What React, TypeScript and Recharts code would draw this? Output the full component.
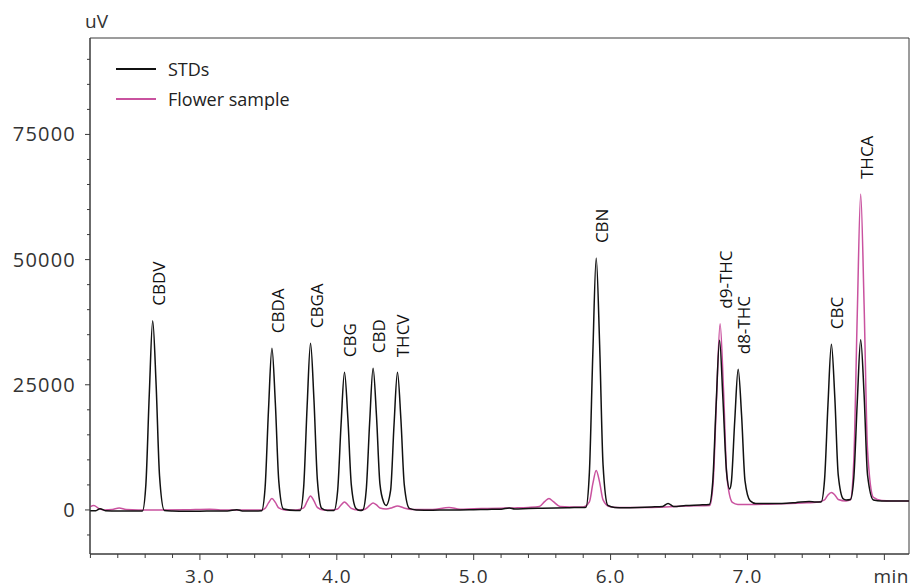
import {
  ComposedChart,
  Line,
  Scatter,
  XAxis,
  YAxis,
  Legend,
  ReferenceArea,
} from 'recharts';

// STDs trace, [min, uV]
const stdTrace: [number, number][] = [
  [2.197, -150], [2.24, -150], [2.27, 250], [2.31, -150], [2.4, -200], [2.5, -200],
  [2.58, -200], [2.605, 5000], [2.63, 23000], [2.655, 37800], [2.68, 25000], [2.705, 6800],
  [2.74, -100], [2.8, -200], [2.9, -250], [3.0, -250], [3.1, -200], [3.2, -200],
  [3.27, 50], [3.31, -200], [3.4, -200], [3.451, -150],
  [3.476, 4400], [3.501, 20000], [3.526, 32300], [3.551, 21300], [3.576, 5800], [3.61, 200],
  [3.7, -100], [3.733, -100],
  [3.758, 4600], [3.783, 20600], [3.808, 33300], [3.833, 22000], [3.858, 6000], [3.89, 300],
  [3.93, -100], [3.98, -100],
  [4.006, 3800], [4.031, 17000], [4.056, 27500], [4.081, 18200], [4.106, 5000], [4.14, 300],
  [4.17, -100], [4.19, 0],
  [4.215, 4000], [4.24, 17500], [4.265, 28300], [4.29, 18700], [4.315, 5200], [4.343, 1500],
  [4.36, 900],
  [4.393, 3900], [4.418, 17000], [4.443, 27500], [4.468, 18200], [4.493, 5000], [4.53, 300],
  [4.58, 0], [4.7, -50], [4.8, 0], [4.9, 0], [5.0, 50], [5.1, 100], [5.2, 150],
  [5.26, 400], [5.3, 200], [5.4, 300], [5.5, 350], [5.6, 400], [5.7, 450], [5.8, 500],
  [5.82, 550], [5.845, 7400], [5.87, 31000], [5.895, 50300], [5.92, 33000], [5.945, 9000],
  [5.98, 900], [6.03, 500], [6.1, 450], [6.2, 500], [6.3, 600], [6.38, 700],
  [6.42, 1300], [6.46, 700], [6.55, 900], [6.65, 1000], [6.721, 1100],
  [6.746, 5500], [6.771, 21000], [6.796, 33900], [6.821, 22000], [6.846, 8000], [6.87, 4200],
  [6.882, 5500], [6.907, 17800], [6.932, 28100], [6.957, 18900], [6.982, 5800], [7.02, 1800],
  [7.06, 1300], [7.15, 1300], [7.25, 1300], [7.35, 1450], [7.45, 1700], [7.5, 1600],
  [7.538, 1600], [7.563, 6000], [7.588, 21000], [7.613, 33100], [7.638, 22500], [7.663, 7000],
  [7.7, 2200], [7.72, 2000],
  [7.752, 2100], [7.777, 6500], [7.802, 21500], [7.827, 34000], [7.852, 23000], [7.877, 7000],
  [7.92, 2000], [7.98, 1800], [8.05, 1800], [8.18, 1800],
];

// Flower sample trace
const flowerTrace: [number, number][] = [
  [2.197, 600], [2.225, 900], [2.26, 300], [2.3, 0], [2.36, 100], [2.41, 400], [2.46, 100],
  [2.55, 0], [2.7, 0], [2.9, 50], [3.07, 150], [3.15, 0], [3.3, 0], [3.45, 0],
  [3.476, 300], [3.501, 1400], [3.526, 2300], [3.551, 1500], [3.576, 400], [3.62, 0], [3.7, 0],
  [3.758, 400], [3.783, 1700], [3.808, 2800], [3.833, 1800], [3.858, 500], [3.9, 0], [3.96, 0],
  [4.006, 200], [4.031, 1000], [4.056, 1600], [4.081, 1000], [4.106, 300], [4.15, 0], [4.2, 100],
  [4.215, 300], [4.24, 900], [4.265, 1400], [4.29, 1000], [4.315, 400], [4.36, 200],
  [4.4, 400], [4.443, 800], [4.49, 400], [4.55, 100], [4.7, 100], [4.82, 500], [4.9, 150],
  [5.0, 250], [5.1, 300], [5.2, 350], [5.3, 400], [5.4, 500], [5.48, 700],
  [5.52, 1700], [5.55, 2300], [5.58, 1700], [5.63, 700], [5.7, 600], [5.8, 600],
  [5.845, 1600], [5.87, 5200], [5.895, 7900], [5.92, 5500], [5.945, 2000], [5.99, 700],
  [6.05, 500], [6.2, 500], [6.4, 600], [6.55, 800], [6.725, 900],
  [6.75, 5800], [6.775, 23000], [6.8, 37200], [6.825, 24000], [6.85, 6500], [6.89, 1500],
  [6.93, 1100], [7.0, 1100], [7.2, 1200], [7.4, 1400], [7.52, 1600],
  [7.563, 2000], [7.588, 3000], [7.613, 3500], [7.638, 3000], [7.663, 2100], [7.72, 1800],
  [7.752, 2000], [7.777, 10000], [7.802, 39000], [7.827, 63100], [7.852, 41000], [7.877, 12000],
  [7.92, 2500], [7.98, 1900], [8.05, 1800], [8.18, 1800],
];

const peakNames = ['CBDV', 'CBDA', 'CBGA', 'CBG', 'CBD', 'THCV', 'CBN', 'd9-THC', 'd8-THC', 'CBC', 'THCA'];
const peakTimes = [2.655, 3.526, 3.808, 4.056, 4.265, 4.443, 5.895, 6.796, 6.932, 7.613, 7.827];
const peakTops = [37800, 32300, 33300, 27500, 28300, 27500, 50300, 37200, 28100, 33100, 63100];

const xDomain = [2.197, 8.18];
const yDomain = [-8800, 94260];
const xTicks = [
  2.2, 2.4, 2.6, 2.8, 3.0, 3.2, 3.4, 3.6, 3.8, 4.0, 4.2, 4.4, 4.6, 4.8, 5.0,
  5.2, 5.4, 5.6, 5.8, 6.0, 6.2, 6.4, 6.6, 6.8, 7.0, 7.2, 7.4, 7.6, 7.8, 8.0,
];
const xLabelled = [3, 4, 5, 6, 7];
const yTicks = [
  -5000, 0, 5000, 10000, 15000, 20000, 25000, 30000, 35000, 40000, 45000, 50000,
  55000, 60000, 65000, 70000, 75000, 80000, 85000, 90000,
];
const yLabelled = [0, 25000, 50000, 75000];

const seriesNames = ['STDs', 'Flower sample'];
const seriesColors = ['#111111', '#c9529f'];

const stdData = stdTrace.map(([t, v]) => ({ t, v }));
const flowerData = flowerTrace.map(([t, v]) => ({ t, v }));
const peakData = peakNames.map((name, i) => ({ name, t: peakTimes[i], v: peakTops[i] }));

const AXIS = '#3a3a3a';
const TEXT = '#333';

const XTick = (props: any) => {
  const { x, y, payload } = props;
  const major = xLabelled.some((m) => Math.abs(m - payload.value) < 1e-6);
  const isEight = Math.abs(payload.value - 8) < 1e-6;
  return (
    <g>
      <line x1={x} y1={y} x2={x} y2={y + (major || isEight ? 6 : 4)} stroke={AXIS} />
      {major && (
        <text x={x} y={y + 29} textAnchor="middle" fontSize={19} letterSpacing={1} fill={TEXT}>
          {payload.value.toFixed(1)}
        </text>
      )}
    </g>
  );
};

const YTick = (props: any) => {
  const { x, y, payload } = props;
  const major = yLabelled.includes(payload.value);
  return (
    <g>
      <line x1={x} y1={y} x2={x - (major ? 5 : 3)} y2={y} stroke={AXIS} />
      {major && (
        <text x={x - 14} y={y + 7} textAnchor="end" fontSize={20} letterSpacing={1.2} fill={TEXT}>
          {payload.value}
        </text>
      )}
    </g>
  );
};

const PeakLabel = (props: any) => {
  const { cx, cy, payload } = props;
  const x = cx + 12;
  const y = cy - 15;
  return (
    <text x={x} y={y} transform={`rotate(-90 ${x} ${y})`} fontSize={17} fill="#111">
      {payload.name}
    </text>
  );
};

const LegendBox = () => (
  <div style={{ fontSize: 18, color: '#222', lineHeight: '30px' }}>
    {seriesNames.map((name, i) => (
      <div key={name} style={{ display: 'flex', alignItems: 'center', height: 30 }}>
        <svg width={52} height={4}>
          <line x1={0} y1={2} x2={40} y2={2} stroke={seriesColors[i]} strokeWidth={2.2} />
        </svg>
        <span>{name}</span>
      </div>
    ))}
  </div>
);

export default function App() {
  return (
    <div
      style={{
        position: 'absolute',
        left: 0,
        top: 0,
        width: 912,
        height: 588,
        background: '#fff',
        fontFamily: '"Open Sans", "Noto Sans", sans-serif',
      }}
    >
      <ComposedChart width={912} height={588} margin={{ top: 38, right: 3, bottom: 0, left: 0 }}>
        <XAxis
          type="number"
          dataKey="t"
          domain={xDomain}
          allowDataOverflow
          ticks={xTicks}
          interval={0}
          height={34}
          tickSize={0}
          tickMargin={0}
          tickLine={false}
          axisLine={{ stroke: AXIS }}
          tick={XTick}
          label={(p: any) => (
            <text
              x={p.viewBox.x + p.viewBox.width}
              y={p.viewBox.y + 29}
              textAnchor="end"
              fontSize={19}
              letterSpacing={0.5}
              fill={TEXT}
            >
              min
            </text>
          )}
        />
        <YAxis
          type="number"
          domain={yDomain}
          allowDataOverflow
          ticks={yTicks}
          interval={0}
          width={90}
          tickSize={0}
          tickMargin={0}
          tickLine={false}
          axisLine={{ stroke: AXIS }}
          tick={YTick}
          label={(p: any) => (
            <text
              x={p.viewBox.x + p.viewBox.width - 5}
              y={p.viewBox.y - 10}
              fontSize={19}
              fill={TEXT}
            >
              uV
            </text>
          )}
        />
        <ReferenceArea
          x1={xDomain[0]}
          x2={xDomain[1]}
          y1={yDomain[0]}
          y2={yDomain[1]}
          fill="none"
          stroke={AXIS}
          strokeWidth={1}
          ifOverflow="visible"
        />
        <Legend
          layout="horizontal"
          align="center"
          verticalAlign="middle"
          content={LegendBox}
          wrapperStyle={{ left: 116, top: 54, width: 260, height: 62 }}
        />
        <Line
          data={flowerData}
          dataKey="v"
          name="Flower sample"
          type="monotone"
          stroke={seriesColors[1]}
          strokeWidth={1.5}
          dot={false}
          activeDot={false}
          isAnimationActive={false}
        />
        <Line
          data={stdData}
          dataKey="v"
          name="STDs"
          type="monotone"
          stroke={seriesColors[0]}
          strokeWidth={1.5}
          dot={false}
          activeDot={false}
          isAnimationActive={false}
        />
        <Scatter data={peakData} dataKey="v" shape={PeakLabel} isAnimationActive={false} />
      </ComposedChart>
    </div>
  );
}
